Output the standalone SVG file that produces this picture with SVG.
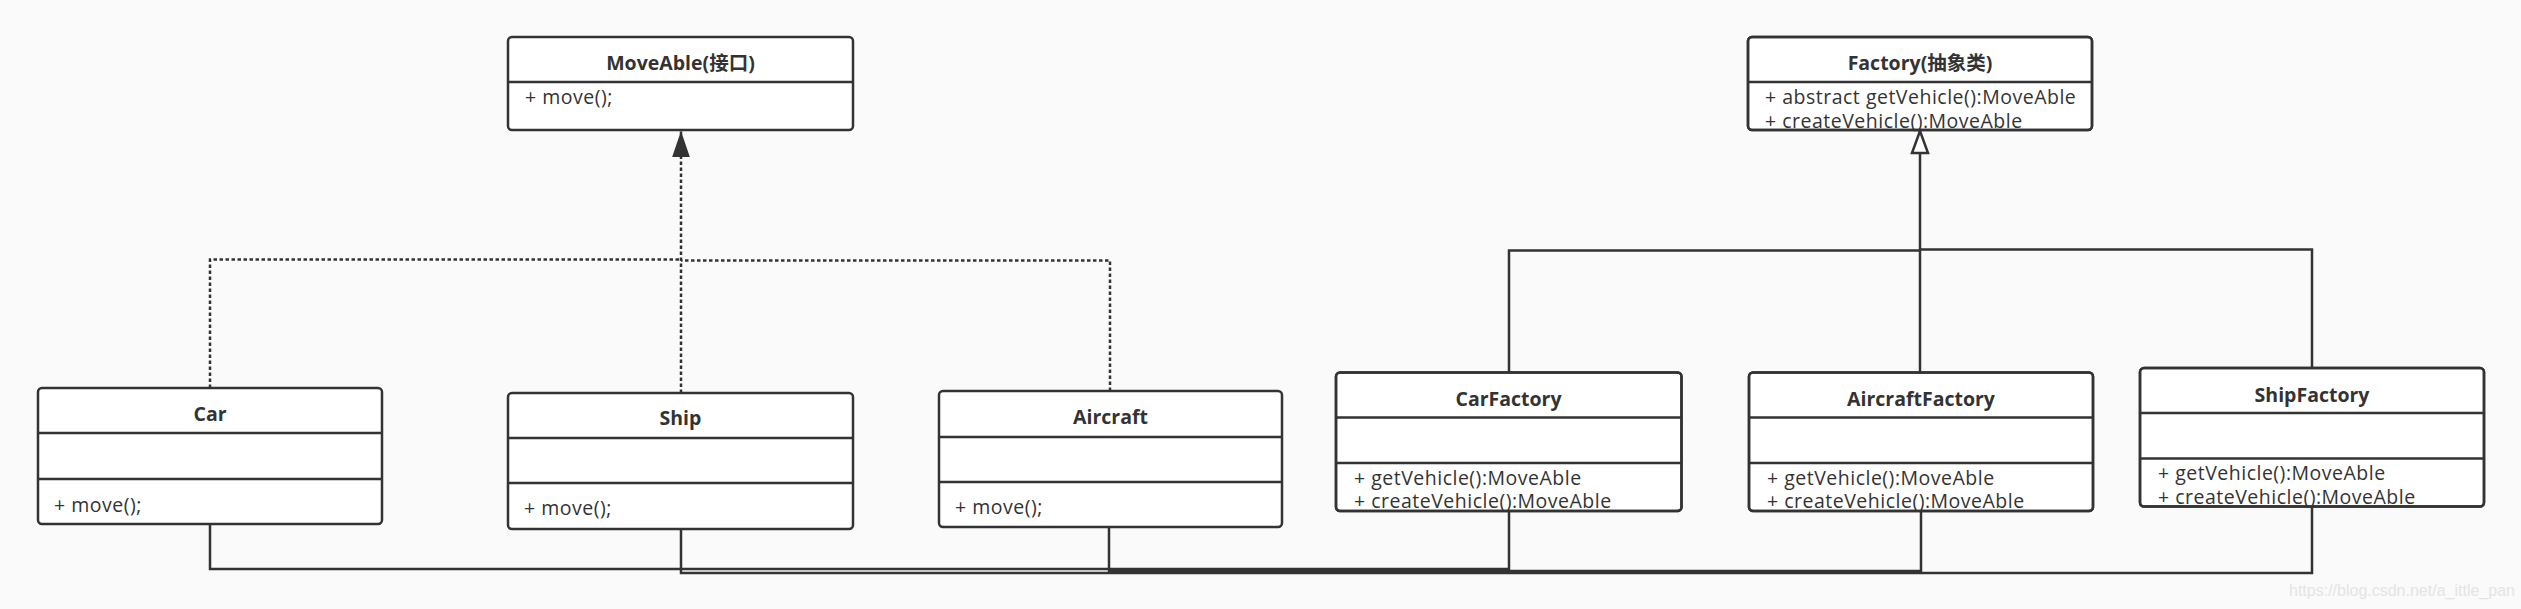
<svg xmlns="http://www.w3.org/2000/svg" width="2521" height="609" viewBox="0 0 2521 609">
<style>
.box{fill:#fff;stroke:#333;stroke-width:2.5}
.frame{fill:none;stroke:#333;stroke-width:2.5}
.div{stroke:#333;stroke-width:2.5}
.t{font-family:"Open Sans","Noto Sans CJK SC",sans-serif;font-weight:bold;font-size:19.5px;fill:#333;text-anchor:middle}
.m{font-family:"Open Sans","Noto Sans CJK SC",sans-serif;font-size:19.5px;letter-spacing:0.5px;fill:#333}
.dot{fill:none;stroke:#333;stroke-width:2.5;stroke-dasharray:3.5 2.5}
.ln{fill:none;stroke:#333;stroke-width:2.5}
.wm{font-family:"Liberation Sans",Arial,sans-serif;font-size:16px;fill:#e4e4e4}
</style>
<defs>
<marker id="filled" markerUnits="userSpaceOnUse" markerWidth="26" markerHeight="18" viewBox="0 0 25 17" refX="25" refY="8.5" orient="auto">
<path d="M0,0 L25,8.5 L0,17 Z" fill="#333"/>
</marker>
<marker id="hollow" markerUnits="userSpaceOnUse" markerWidth="26" markerHeight="20" viewBox="-2 -2 26 20" refX="0" refY="8" orient="auto">
<path d="M0,0 L22,8 L0,16 Z" fill="#fff" stroke="#333" stroke-width="2.5"/>
</marker>
</defs>
<rect x="0" y="0" width="2521" height="609" fill="#fafafa"/>

<g id="connectors">
<path class="dot" d="M210,388 V259.5 H681"/>
<path class="dot" d="M1110,391 V260.5 H681"/>
<path class="dot" d="M681,393 V131" marker-end="url(#filled)"/>
<path class="ln" d="M1509,372.5 V250.5 H1920"/>
<path class="ln" d="M2312,368 V249.5 H1920"/>
<path class="ln" d="M1920,372.5 V153" marker-end="url(#hollow)"/>
<path class="ln" d="M210,524 V569 H1509 V511"/>
<path class="ln" d="M1109,527 V571 H1921 V511"/>
<path class="ln" d="M681,529 V573 H2312 V506.5"/>
</g>

<g id="MoveAble">
<rect class="box" x="508" y="37" width="345" height="93" rx="4"/>
<line class="div" x1="508" y1="82" x2="853" y2="82"/>
<text class="t" x="680.5" y="70">MoveAble(接口)</text>
<text class="m" x="525" y="104">+ move();</text>
</g>

<g id="Factory">
<rect class="box" x="1748" y="37" width="344" height="93" rx="4"/>
<line class="div" x1="1748" y1="82" x2="2092" y2="82"/>
<text class="t" x="1920" y="70">Factory(抽象类)</text>
<text class="m" x="1765" y="104">+ abstract getVehicle():MoveAble</text>
<text class="m" x="1765" y="127.5">+ createVehicle():MoveAble</text>
<rect class="frame" x="1748" y="37" width="344" height="93" rx="4"/>
</g>

<g id="Car">
<rect class="box" x="38" y="388" width="344" height="136" rx="4"/>
<line class="div" x1="38" y1="433" x2="382" y2="433"/>
<line class="div" x1="38" y1="479" x2="382" y2="479"/>
<text class="t" x="210" y="421">Car</text>
<text class="m" x="54" y="512">+ move();</text>
</g>

<g id="Ship">
<rect class="box" x="508" y="393" width="345" height="136" rx="4"/>
<line class="div" x1="508" y1="438" x2="853" y2="438"/>
<line class="div" x1="508" y1="483" x2="853" y2="483"/>
<text class="t" x="680.5" y="425">Ship</text>
<text class="m" x="524" y="515">+ move();</text>
</g>

<g id="Aircraft">
<rect class="box" x="939" y="391" width="343" height="136" rx="4"/>
<line class="div" x1="939" y1="437" x2="1282" y2="437"/>
<line class="div" x1="939" y1="482" x2="1282" y2="482"/>
<text class="t" x="1110.5" y="424">Aircraft</text>
<text class="m" x="955" y="514">+ move();</text>
</g>

<g id="CarFactory">
<rect class="box" x="1336" y="372.5" width="345.5" height="138.5" rx="4"/>
<line class="div" x1="1336" y1="417.5" x2="1681.5" y2="417.5"/>
<line class="div" x1="1336" y1="463" x2="1681.5" y2="463"/>
<text class="t" x="1508.5" y="406">CarFactory</text>
<text class="m" x="1354" y="484.5">+ getVehicle():MoveAble</text>
<text class="m" x="1354" y="508">+ createVehicle():MoveAble</text>
<rect class="frame" x="1336" y="372.5" width="345.5" height="138.5" rx="4"/>
</g>

<g id="AircraftFactory">
<rect class="box" x="1749" y="372.5" width="344" height="138.5" rx="4"/>
<line class="div" x1="1749" y1="417.5" x2="2093" y2="417.5"/>
<line class="div" x1="1749" y1="463" x2="2093" y2="463"/>
<text class="t" x="1921" y="406">AircraftFactory</text>
<text class="m" x="1767" y="484.5">+ getVehicle():MoveAble</text>
<text class="m" x="1767" y="508">+ createVehicle():MoveAble</text>
<rect class="frame" x="1749" y="372.5" width="344" height="138.5" rx="4"/>
</g>

<g id="ShipFactory">
<rect class="box" x="2140" y="368" width="344" height="138.5" rx="4"/>
<line class="div" x1="2140" y1="413" x2="2484" y2="413"/>
<line class="div" x1="2140" y1="458.5" x2="2484" y2="458.5"/>
<text class="t" x="2312" y="401.5">ShipFactory</text>
<text class="m" x="2158" y="480">+ getVehicle():MoveAble</text>
<text class="m" x="2158" y="503.5">+ createVehicle():MoveAble</text>
<rect class="frame" x="2140" y="368" width="344" height="138.5" rx="4"/>
</g>

<text class="wm" x="2289" y="596">https://blog.csdn.net/a_ittle_pan</text>
</svg>
